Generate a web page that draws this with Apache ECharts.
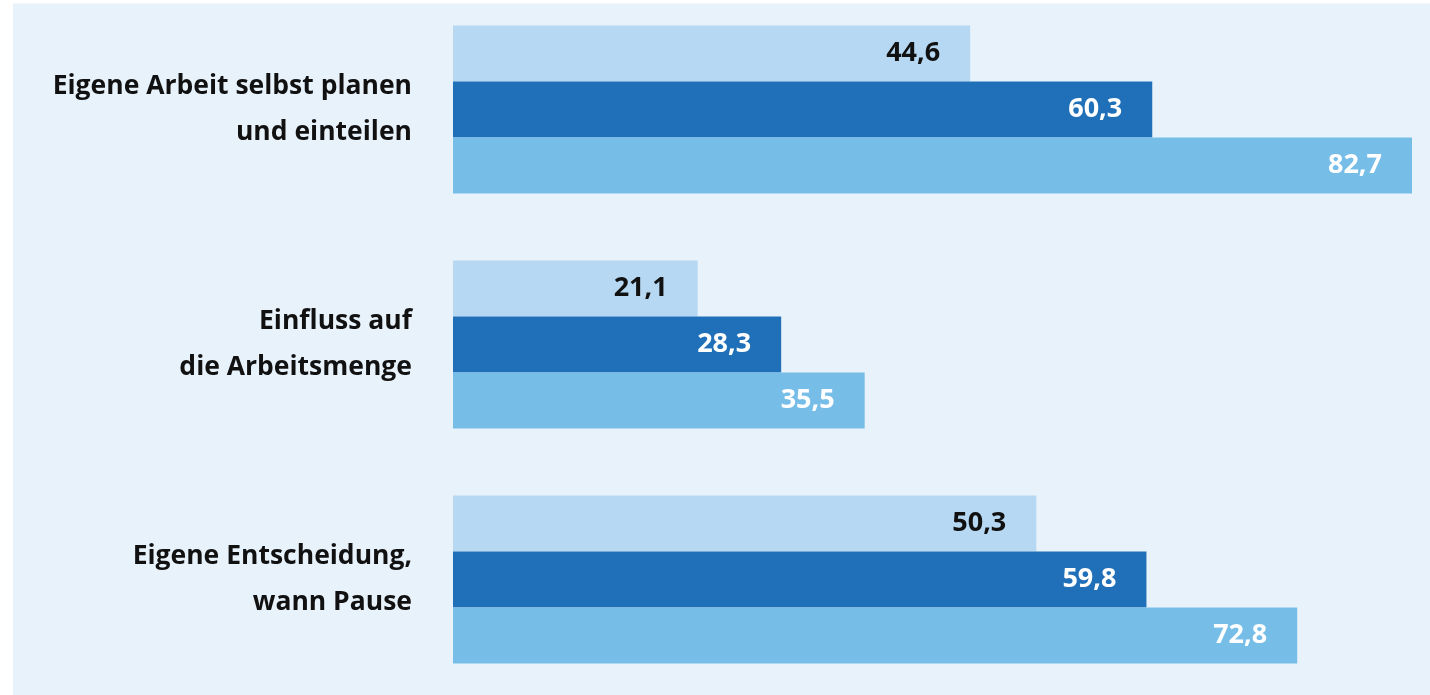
<!DOCTYPE html>
<html><head><meta charset="utf-8">
<script src="https://cdn.jsdelivr.net/npm/echarts@6/dist/echarts.min.js"></script>
<style>
html,body{margin:0;padding:0;background:#ffffff;overflow:hidden;}
#c{position:absolute;left:13px;top:-8.5px;width:1417px;height:705px;}
</style></head>
<body><div id="c"></div>
<script>
const categories = ['Eigene Arbeit selbst planen\nund einteilen', 'Einfluss auf\ndie Arbeitsmenge', 'Eigene Entscheidung,\nwann Pause'];
const seriesA = [44.6, 21.1, 50.3];
const seriesB = [60.3, 28.3, 59.8];
const seriesC = [82.7, 35.5, 72.8];
const colors = ['#b6d8f2', '#1f70b8', '#76bde8'];
const labelColors = ['#111111', '#ffffff', '#ffffff'];

const chart = echarts.init(document.getElementById('c'));
const fmt = p => String(p.value.toFixed(1)).replace('.', ',');
function mk(data, i){
  return {
    type:'bar', data:data, barWidth:56, barGap:'0%',
    itemStyle:{color:colors[i]},
    label:{show:true, position:'insideRight', distance:30, formatter:fmt,
      color:labelColors[i], fontFamily:'Open Sans', fontWeight:'bold', fontSize:27},
    animation:false
  };
}
chart.setOption({
  backgroundColor:'transparent',
  animation:false,
  graphic:[{type:'rect', silent:true, z:-100, zlevel:0,
    shape:{x:0, y:11.5, width:1417, height:700}, style:{fill:'#e8f2fb'}}],
  grid:{left:440, right:18, top:0, bottom:0, containLabel:false},
  xAxis:{type:'value', min:0, max:82.7, show:false},
  yAxis:{type:'category', data:categories, inverse:true,
    axisLine:{show:false}, axisTick:{show:false}, splitLine:{show:false},
    axisLabel:{margin:41, fontFamily:'Open Sans', fontWeight:'bold', fontSize:26.5, color:'#111111', lineHeight:46, align:'right'}},
  series:[mk(seriesA,0), mk(seriesB,1), mk(seriesC,2)]
});
</script></body></html>
